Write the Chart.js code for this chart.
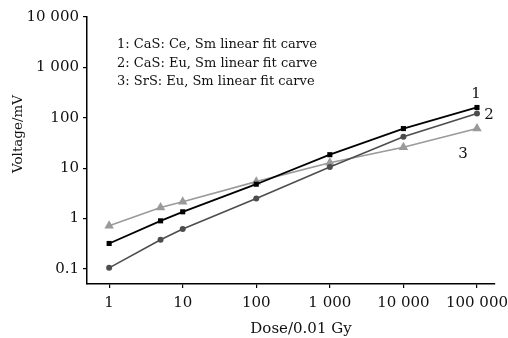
<!DOCTYPE html>
<html>
<head>
<meta charset="utf-8">
<script src="https://cdn.jsdelivr.net/npm/chart.js@4/dist/chart.umd.min.js"></script>
<style>
html,body{margin:0;padding:0;background:#fff;}
#wrap{width:508px;height:338px;position:relative;}
</style>
</head>
<body>
<div id="wrap"><canvas id="c" width="508" height="338"></canvas></div>
<script>
const doses = [1, 5, 10, 100, 1000, 10000, 100000];
const series1 = [0.32, 0.9, 1.36, 4.8, 18.5, 61, 160];
const series2 = [0.105, 0.38, 0.62, 2.5, 10.5, 42, 122];
const series3 = [0.72, 1.65, 2.15, 5.4, 12.8, 26, 61];
const seriesNames = ['1: CaS: Ce, Sm linear fit carve', '2: CaS: Eu, Sm linear fit carve', '3: SrS: Eu, Sm linear fit carve'];
const curveNumbers = ['1', '2', '3'];
const xTicks = [1, 10, 100, 1000, 10000, 100000];
const yTicks = [0.1, 1, 10, 100, 1000, 10000];
const xTitle = 'Dose/0.01 Gy';
const yTitle = 'Voltage/mV';

const FONT = '"DejaVu Serif", "Liberation Serif", serif';
const fmt = v => {
  if (v < 1) return String(v);
  return String(Math.round(v)).replace(/\B(?=(\d{3})+(?!\d))/g, ' ');
};
const pts = arr => doses.map((d, i) => ({x: d, y: arr[i]}));

const annot = {
  id: 'annot',
  afterDraw(chart) {
    const ctx = chart.ctx;
    ctx.save();
    ctx.fillStyle = '#111';
    ctx.font = '13px ' + FONT;
    ctx.textBaseline = 'middle';
    ctx.textAlign = 'left';
    const ys = [45, 63.5, 82];
    seriesNames.forEach((t, i) => ctx.fillText(t, 117, ys[i]));
    ctx.font = '15px ' + FONT;
    ctx.textAlign = 'center';
    ctx.fillText(curveNumbers[0], 476, 94);
    ctx.fillText(curveNumbers[1], 489, 115);
    ctx.fillText(curveNumbers[2], 463, 154);
    // axis titles
    ctx.fillText(xTitle, 301, 329);
    ctx.save();
    ctx.translate(18, 134);
    ctx.rotate(-Math.PI / 2);
    ctx.font = '13.5px ' + FONT;
    ctx.fillText(yTitle, 0, 0);
    ctx.restore();
    ctx.restore();
  }
};

new Chart(document.getElementById('c'), {
  type: 'line',
  data: {
    datasets: [
      {data: pts(series1), borderColor: '#000', backgroundColor: '#000', borderWidth: 1.8, pointStyle: 'rect', pointRadius: 3.6, pointBorderWidth: 0},
      {data: pts(series2), borderColor: '#4d4d4d', backgroundColor: '#4d4d4d', borderWidth: 1.6, pointStyle: 'circle', pointRadius: 3, pointBorderWidth: 0},
      {data: pts(series3), borderColor: '#9a9a9a', backgroundColor: '#9a9a9a', borderWidth: 1.6, pointStyle: 'triangle', pointRadius: 5.5, pointBorderWidth: 0}
    ]
  },
  options: {
    responsive: false,
    animation: false,
    events: [],
    layout: {padding: {top: 17, right: 13, bottom: 0, left: 0}},
    plugins: {legend: {display: false}, tooltip: {enabled: false}},
    scales: {
      x: {
        type: 'logarithmic',
        min: 0.5, max: 175800,
        afterBuildTicks: s => { s.ticks = xTicks.map(v => ({value: v})); },
        afterFit: s => { s.height = 54; s.paddingLeft = 0; s.paddingRight = 0; },
        border: {display: true, color: '#000', width: 1.5},
        grid: {drawOnChartArea: false, drawTicks: true, tickLength: 4, color: '#000', lineWidth: 1.2},
        ticks: {color: '#111', font: {family: FONT, size: 15}, padding: 6, maxRotation: 0, autoSkip: false, callback: v => fmt(v)},
        title: {display: false}
      },
      y: {
        type: 'logarithmic',
        min: 0.0502, max: 10000,
        afterBuildTicks: s => { s.ticks = yTicks.map(v => ({value: v})); },
        afterFit: s => { s.width = 87; s.paddingTop = 0; s.paddingBottom = 0; },
        border: {display: true, color: '#000', width: 1.5},
        grid: {drawOnChartArea: false, drawTicks: true, tickLength: 4, color: '#000', lineWidth: 1.2},
        ticks: {color: '#111', font: {family: FONT, size: 15}, padding: 4, autoSkip: false, callback: v => fmt(v)},
        title: {display: false}
      }
    }
  },
  plugins: [annot]
});
</script>
</body>
</html>
